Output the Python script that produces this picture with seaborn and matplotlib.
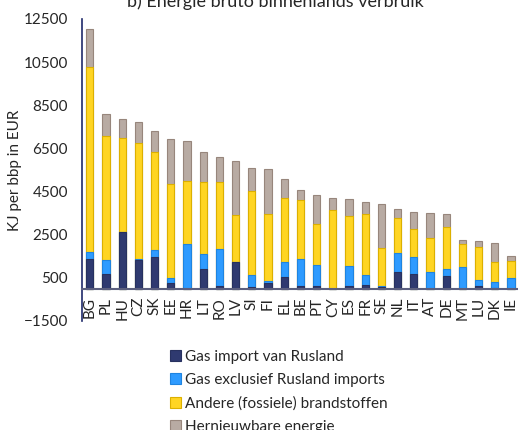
import numpy as np
import pandas as pd
import matplotlib
matplotlib.use("Agg")
import matplotlib.pyplot as plt
import seaborn as sns
from matplotlib.patches import Patch

# data (KJ per bbp in EUR)
countries = ["BG", "PL", "HU", "CZ", "SK", "EE", "HR", "LT", "RO", "LV", "SI", "FI", "EL",
             "BE", "PT", "CY", "ES", "FR", "SE", "NL", "IT", "AT", "DE", "MT", "LU", "DK", "IE"]
gas_russia = [1365, 667, 2636, 1318, 1488, 264, 0, 899, 140, 1225, 62, 264, 543,
              125, 115, 0, 140, 155, 78, 760, 667, 0, 589, 0, 140, 47, 0]
gas_other = [310, 682, 0, 62, 310, 248, 2062, 729, 1689, 0, 558, 93, 682,
             1255, 970, 0, 914, 496, 31, 883, 806, 791, 326, 1023, 263, 248, 512]
fossil = [8590, 5705, 4325, 5364, 4528, 4356, 2915, 3302, 3117, 2186, 3891, 3085, 2975,
          2730, 1908, 3628, 2326, 2806, 1782, 1644, 1302, 1566, 1922, 1023, 1535, 945, 775]
renewable = [1750, 1054, 915, 992, 992, 2062, 1860, 1411, 1162, 2496, 1086, 2123, 860,
             480, 1340, 558, 760, 559, 2016, 387, 760, 1131, 605, 218, 279, 853, 217]

labels = ["Gas import van Rusland", "Gas exclusief Rusland imports",
          "Andere (fossiele) brandstoffen", "Hernieuwbare energie"]
colors = ["#2f3a70", "#2e9bff", "#ffd523", "#b8aba3"]
edges = ["#27315f", "#1f84e0", "#dcb000", "#97867c"]

df = pd.DataFrame({"land": countries, "g1": gas_russia, "g2": gas_other,
                   "g3": fossil, "g4": renewable})
# cumulative heights so the stack can be drawn top layer first
df["c1"] = df["g1"]
df["c2"] = df["c1"] + df["g2"]
df["c3"] = df["c2"] + df["g3"]
df["c4"] = df["c3"] + df["g4"]

sns.set_style("white")
plt.rcParams["font.family"] = ["Lato", "DejaVu Sans"]

fig = plt.figure(figsize=(5.18, 4.30), dpi=100)
ax = fig.add_axes([0.158, 0.2535, 0.842, 0.7025])

for col, c, e in zip(["c4", "c3", "c2", "c1"], colors[::-1], edges[::-1]):
    sns.barplot(data=df, x="land", y=col, color=c, edgecolor=e, linewidth=0.8,
                saturation=1, width=0.45, ax=ax)

ax.set_ylim(-1500, 12500)
ax.set_yticks(np.arange(-1500, 12501, 2000))
ax.set_xlim(-0.49, 26.43)
ax.set_xlabel("")
ax.set_ylabel("KJ per bbp in EUR", fontsize=11)
ax.yaxis.set_label_coords(-0.138, 0.5)

ax.spines["top"].set_visible(False)
ax.spines["right"].set_visible(False)
ax.spines["left"].set_color("#1f2a6b")
ax.spines["left"].set_linewidth(1.2)
ax.spines["bottom"].set_position(("data", 0))
ax.spines["bottom"].set_color("#5b5f7e")
ax.spines["bottom"].set_linewidth(1.5)

ax.tick_params(axis="y", length=0, pad=10, labelsize=11)
ax.tick_params(axis="x", length=0, pad=6, labelsize=11, labelrotation=90)

fig.text(275 / 518, 1 - 7 / 430, "b) Energie bruto binnenlands verbruik",
         ha="center", va="baseline", fontsize=13)

handles = [Patch(facecolor=c, edgecolor=e, linewidth=0.8) for c, e in zip(colors, edges)]
fig.legend(handles, labels, loc="upper left", bbox_to_anchor=(170 / 518, 1 - 350 / 430),
           frameon=False, fontsize=11, handlelength=0.7, handleheight=0.7,
           handletextpad=0.3, labelspacing=0.6, borderpad=0, borderaxespad=0)

fig.savefig("out.png", dpi=100)
